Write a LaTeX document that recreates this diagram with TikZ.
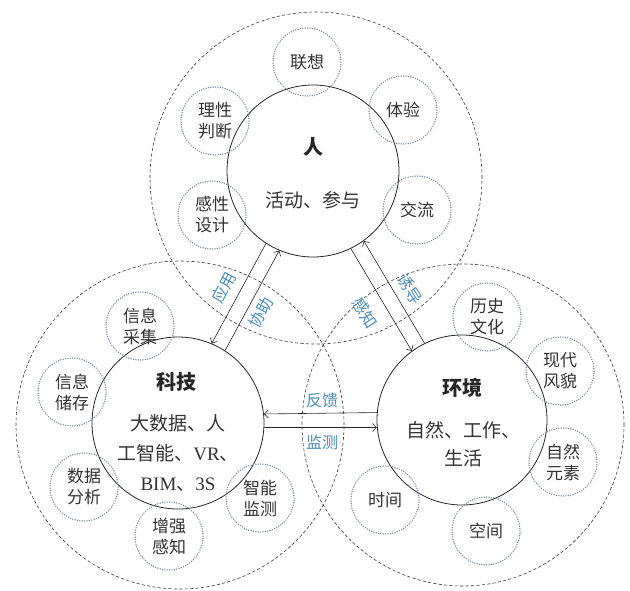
\documentclass[tikz,border=0pt]{standalone}
\usepackage{fontspec}
\setmainfont{Noto Sans CJK SC}
\newfontfamily\lat{Liberation Serif}
\usetikzlibrary{arrows.meta}
\definecolor{dotc}{HTML}{6E869E}
\definecolor{lblc}{HTML}{4A8BB8}
\definecolor{dashc}{HTML}{3A3A3A}
\tikzset{
  bigdash/.style={draw=dashc, line width=0.6pt, dash pattern=on 3.2pt off 2.2pt},
  maincirc/.style={circle, draw=black!85, line width=0.8pt, inner sep=0pt, minimum size=172pt},
  smallcirc/.style={circle, draw=dotc, line width=1.5pt, dash pattern=on 0pt off 2.4pt, line cap=round,
    inner sep=0pt, minimum size=68pt, align=center, font=\fontsize{17}{21}\selectfont, text=black!80},
  titletext/.style={font=\fontsize{20}{20}\selectfont\bfseries, text=black!85, inner sep=0pt},
  bodytext/.style={font=\fontsize{19}{30}\selectfont, text=black!80, align=center, inner sep=0pt},
  lbl/.style={text=lblc, font=\fontsize{16}{16}\selectfont, inner sep=0pt},
  arr/.style={draw=black!85, line width=0.6pt, -{Straight Barb[length=4pt,width=8pt]}}
}
\begin{document}
\begin{tikzpicture}[x=1pt,y=-1pt]
\useasboundingbox (0,0) rectangle (630,590);
% large dashed circles
\draw[bigdash] (316,178) circle[radius=166pt];
\draw[bigdash] (180,425) circle[radius=164pt];
\draw[bigdash] (463,425) circle[radius=161pt];
% main circles
\node[maincirc] (ren) at (313,171) {};
\node[maincirc] (kj) at (178,423) {};
\node[maincirc, minimum size=170pt] (hj) at (462,420) {};
% main texts
\node[titletext] (renT) at (313,147) {人};
\node[bodytext] (renB) at (313,200) {活动、参与};
\node[titletext] (kjT) at (176,382) {科技};
\node[bodytext] (kjB) at (178,453) {大数据、人\\工智能、{\lat VR}、\\{\lat BIM}、{\lat 3S}};
\node[titletext] (hjT) at (462,388) {环境};
\node[bodytext, font=\fontsize{19}{28}\selectfont] (hjB) at (463,444) {自然、工作、\\生活};
% small circles around 人
\node[smallcirc] (s1) at (307,62) {联想};
\node[smallcirc] (s2) at (403,110) {体验};
\node[smallcirc] (s3) at (417,210) {交流};
\node[smallcirc] (s4) at (215,121) {理性\\判断};
\node[smallcirc] (s5) at (212,215) {感性\\设计};
% small circles around 科技
\node[smallcirc] (t1) at (140,326) {信息\\采集};
\node[smallcirc] (t2) at (72,392) {信息\\储存};
\node[smallcirc] (t3) at (84,487) {数据\\分析};
\node[smallcirc] (t4) at (169,536) {增强\\感知};
\node[smallcirc] (t5) at (260,498) {智能\\监测};
% small circles around 环境
\node[smallcirc] (e1) at (487,317) {历史\\文化};
\node[smallcirc] (e2) at (560,371) {现代\\风貌};
\node[smallcirc] (e3) at (563,462) {自然\\元素};
\node[smallcirc] (e4) at (486,531) {空间};
\node[smallcirc] (e5) at (385,500) {时间};
% arrows
\draw[arr] (ren.237) -- (kj.67);
\draw[arr] (kj.57) -- (ren.247);
\draw[arr] (ren.-64) -- (hj.126);
\draw[arr] (hj.116) -- (ren.-54);
\draw[arr] (hj.175.3) -- (kj.6.7);
\draw[arr] (kj.-3.3) -- (hj.185.4);
% labels
\node[lbl, rotate=62] (l1) at (224,288) {应用};
\node[lbl, rotate=62] (l2) at (261,313) {协助};
\node[lbl, rotate=-57] (l3) at (365,313) {感知};
\node[lbl, rotate=-57] (l4) at (410,289) {诱导};
\node[lbl] (l5) at (322,400) {反馈};
\node[lbl] (l6) at (322,442) {监测};
\end{tikzpicture}
\end{document}
